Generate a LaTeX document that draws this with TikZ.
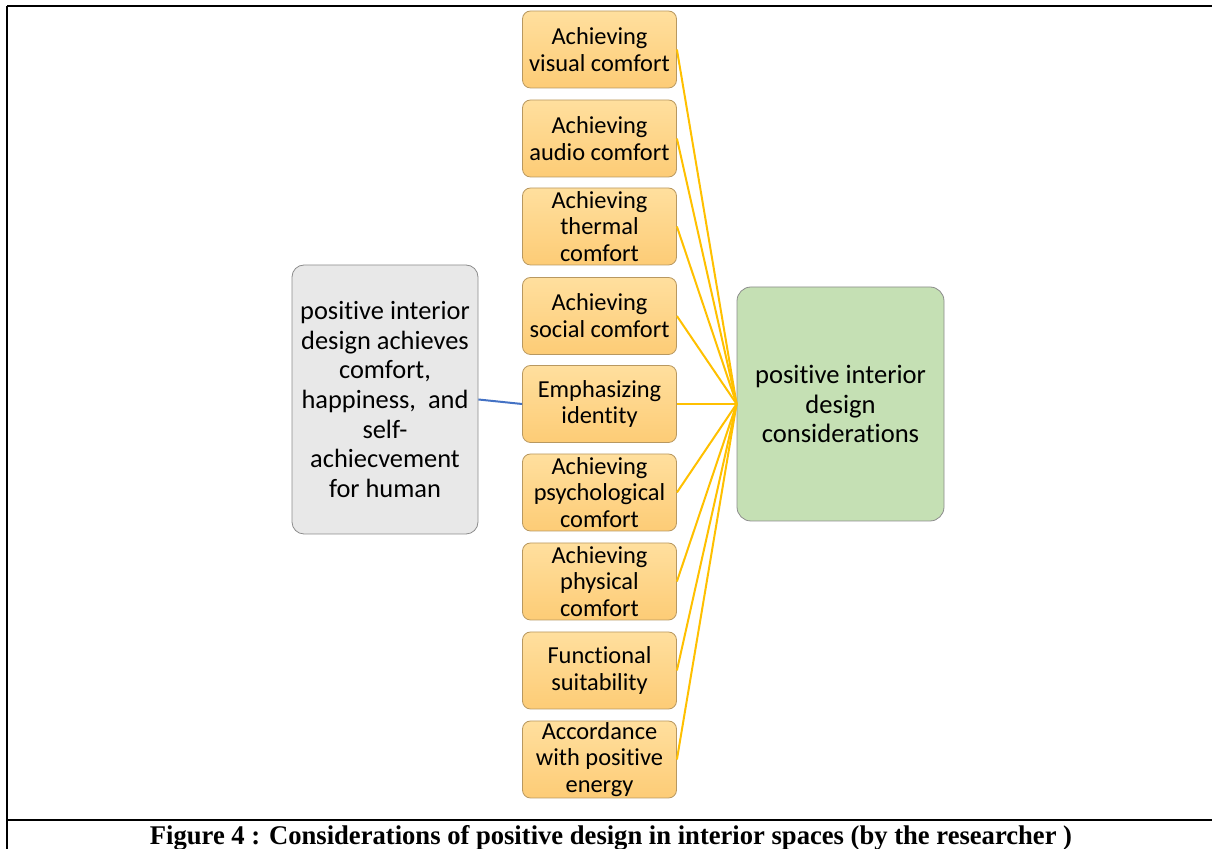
\documentclass[tikz,border=0pt]{standalone}
\usepackage{fontspec}
\setmainfont{Carlito}[Ligatures=NoCommon]
\newfontfamily\capfont{Liberation Serif}
\definecolor{gold}{RGB}{255,192,0}
\definecolor{boxtop}{RGB}{255,223,158}
\definecolor{boxbot}{RGB}{253,204,118}
\definecolor{boxedge}{RGB}{184,152,96}
\definecolor{hubfill}{RGB}{232,232,232}
\definecolor{goalfill}{RGB}{197,224,180}
\definecolor{linkblue}{RGB}{68,114,196}
\tikzset{
	optbox/.style={draw=boxedge,rounded corners=4pt,top color=boxtop,bottom color=boxbot,minimum width=77pt,minimum height=38.5pt,inner sep=0pt,align=center,font=\fontsize{12.2}{13.4}\selectfont},
	hubbox/.style={draw=black!45,fill=hubfill,rounded corners=6pt,minimum width=93pt,minimum height=134.5pt,inner sep=0pt,align=center,font=\fontsize{13.2}{14.8}\selectfont},
	goalbox/.style={draw=black!45,fill=goalfill,rounded corners=7pt,minimum width=103.5pt,minimum height=117pt,inner sep=0pt,align=center,font=\fontsize{13.3}{14.6}\selectfont},
	feed/.style={gold,line width=1pt}
}
\begin{document}
\begin{tikzpicture}[x=0.5pt,y=-0.5pt]
		\useasboundingbox (0,0) rectangle (1212,849);
		\draw[line width=1pt](7,6.5)--(1212,6.5);
		\draw[line width=1pt](7,6)--(7,849);
		\draw[line width=1pt](7,820)--(1212,820);
		\node[hubbox](10) at (385,399.5){positive interior\\design achieves\\comfort,\\happiness,~ and\\self-\\achiecvement\\for human};
		\node[goalbox](11) at (840.5,404){positive interior\\design\\considerations};
		\node[optbox](1) at (599.5,49.5){Achieving\\visual comfort};
		\node[optbox](2) at (599.5,138.5){Achieving\\audio comfort};
		\node[optbox](3) at (599.5,226.5){Achieving\\thermal\\comfort};
		\node[optbox](4) at (599.5,316){Achieving\\social comfort};
		\node[optbox](5) at (599.5,404){Emphasizing\\identity};
		\node[optbox](6) at (599.5,492.5){Achieving\\psychological\\comfort};
		\node[optbox](7) at (599.5,581.5){Achieving\\physical\\comfort};
		\node[optbox](8) at (599.5,670.5){Functional\\suitability};
		\node[optbox](9) at (599.5,759.5){Accordance\\with positive\\energy};
		\draw[feed](1.east)--(11.west);
		\draw[feed](2.east)--(11.west);
		\draw[feed](3.east)--(11.west);
		\draw[feed](4.east)--(11.west);
		\draw[feed](5.east)--(11.west);
		\draw[feed](6.east)--(11.west);
		\draw[feed](7.east)--(11.west);
		\draw[feed](8.east)--(11.west);
		\draw[feed](9.east)--(11.west);
		\draw[linkblue,line width=1pt](10.east)--(5.west);
		\node[anchor=base,inner sep=0pt,font=\capfont\bfseries\fontsize{13.5}{16}\selectfont](12) at (611,845){\resizebox{461pt}{\height}{Figure 4 : Considerations of positive design in interior spaces (by the researcher )}};
	\end{tikzpicture}
\end{document}
